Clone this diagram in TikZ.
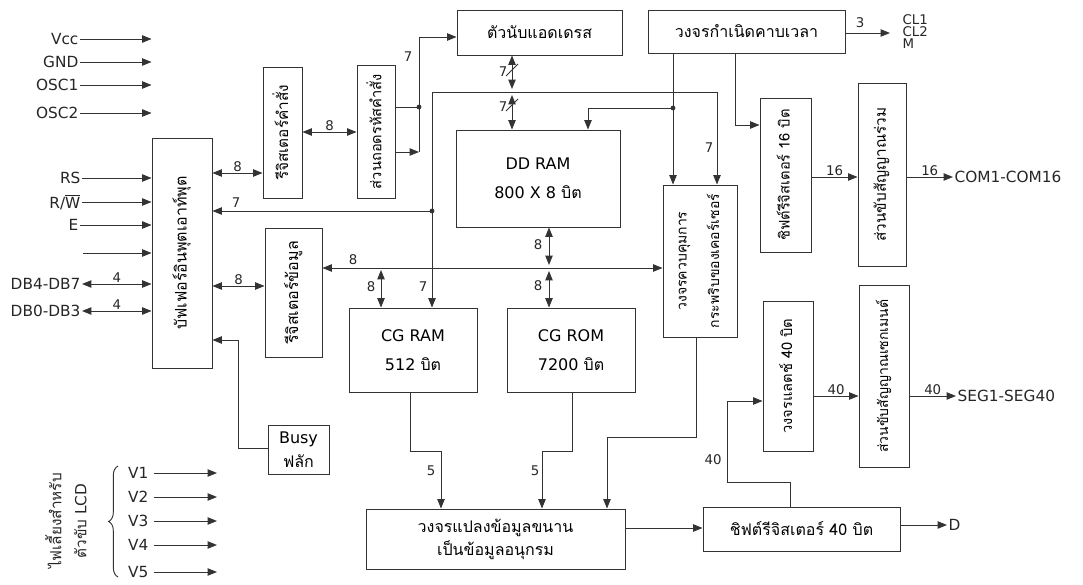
\documentclass[tikz,border=0pt]{standalone}
\usepackage{fontspec}
\setmainfont{DejaVu Sans}
\newfontfamily\thai[Script=Thai]{Loma}
\usetikzlibrary{arrows.meta,decorations.pathreplacing,calc}
\newcommand\mkbox[6]{\node[blk, minimum width={(#4-#2)*0.75pt}, minimum height={(#5-#3)*0.75pt}] (#1) at ({(#2+#4)/2},{(#3+#5)/2}) {#6};}
\newcommand\rotT[2][11]{\rotatebox{90}{\fontsize{#1}{#1}\selectfont\begin{tabular}{@{}c@{}}#2\end{tabular}}}
\begin{document}
\begin{tikzpicture}[x=0.75pt,y=-0.75pt,
  line/.style={draw=black!80, line width=0.7pt},
  blk/.style={line, inner sep=0pt, align=center, font=\fontsize{12}{14}\selectfont},
  arr/.style={line, -{Triangle[length=7pt,width=5.5pt]}},
  darr/.style={line, {Triangle[length=7pt,width=5.5pt]}-{Triangle[length=7pt,width=5.5pt]}},
  pin/.style={inner sep=1pt, font=\fontsize{11.5}{13}\selectfont, text=black!85},
  num/.style={inner sep=1pt, font=\fontsize{10}{12}\selectfont, text=black!85},
  dot/.style={fill=black!80}]
\useasboundingbox (0,0) rectangle (1083,585);

% blocks
\mkbox{io}{152}{138}{212}{368}{\rotT[12]{\thai บัฟเฟอร์อินพุตเอาท์พุต}}
\mkbox{ir}{263}{67}{302}{198}{\rotT[11.5]{\thai รีจิสเตอร์คำสั่ง}}
\mkbox{dec}{357}{65}{395}{198}{\rotT[11]{\thai ส่วนถอดรหัสคำสั่ง}}
\mkbox{ac}{457}{10}{622}{55}{\thai ตัวนับแอดเดรส}
\mkbox{tg}{648}{10}{845}{53}{\thai วงจรกำเนิดคาบเวลา}
\mkbox{dd}{456}{130}{620}{227}{DD RAM\\[8pt]800 X 8 {\thai บิต}}
\mkbox{sr16}{760}{98}{811}{252}{\rotT[11]{\thai ชิฟต์รีจิสเตอร์ 16 บิต}}
\mkbox{com}{858}{83}{906}{266}{\rotT[11.5]{\thai ส่วนขับสัญญาณร่วม}}
\mkbox{dr}{265}{228}{322}{357}{\rotT[12]{\thai รีจิสเตอร์ข้อมูล}}
\mkbox{cur}{663}{185}{737}{337}{\rotT[10.5]{\thai วงจรควบคุมการ\\[12pt]\thai กระพริบของเคอร์เซอร์}}
\mkbox{cgram}{349}{308}{477}{392}{CG RAM\\[8pt]512 {\thai บิต}}
\mkbox{cgrom}{507}{308}{635}{392}{CG ROM\\[8pt]7200 {\thai บิต}}
\mkbox{busy}{268}{425}{329}{474}{Busy\\[4pt]{\thai ฟลัก}}
\mkbox{latch}{763}{301}{813}{451}{\rotT[11]{\thai วงจรแลตช์ 40 บิต}}
\mkbox{seg}{859}{285}{909}{467}{\rotT[10.5]{\thai ส่วนขับสัญญาณเซกเมนต์}}
\mkbox{p2s}{366}{509}{625}{569}{{\thai วงจรแปลงข้อมูลขนาน}\\[2pt]{\thai เป็นข้อมูลอนุกรม}}
\mkbox{sr40}{703}{507}{900}{551}{\thai ชิฟต์รีจิสเตอร์ 40 บิต}

% input pins
\node[pin, anchor=east] (vcc) at (80,39) {Vcc};
\node[pin, anchor=east] (gnd) at (80,62) {GND};
\node[pin, anchor=east] (osc1) at (80,85) {OSC1};
\node[pin, anchor=east] (osc2) at (80,113) {OSC2};
\node[pin, anchor=east] (rs) at (82,178) {RS};
\node[pin, anchor=east] (rw) at (82,202) {R/$\overline{\hbox{W}}$};
\node[pin, anchor=east] (en) at (80,225) {E};
\coordinate (blank) at (83,253);
\node[pin, anchor=east] (db4) at (82,284) {DB4-DB7};
\node[pin, anchor=east] (db0) at (82,311) {DB0-DB3};
\foreach \p in {vcc,gnd,osc1,osc2,rs,rw,en}
  \draw[arr] (\p.east) -- (\p.east -| io.west);
\draw[arr] (blank) -- (blank -| io.west);
\draw[darr] (db4.east) -- (db4.east -| io.west) node[num, midway, above] {4};
\draw[darr] (db0.east) -- (db0.east -| io.west) node[num, midway, above] {4};

% io - ir - dec
\draw[darr] (io.east |- 0,173) -- (ir.west |- 0,173) node[num, midway, above] {8};
\draw[darr] (ir.east |- 0,132) -- (dec.west |- 0,132) node[num, midway, above] {8};
\coordinate (j1) at (419,107);
\coordinate (j2) at (419,152);
\coordinate (j3) at (419,37);
\draw[line] (dec.east |- j1) -- (j1);
\draw[arr] (dec.east |- j2) -- (j2);
\draw[arr] (j2) -- (j3) -- (j3 -| ac.west);
\fill[dot] (j1) circle (1.8pt);
\node[num] (n7a) at (408,57) {7};

% address counter <-> bus <-> DD RAM
\coordinate (b1) at (512,89);
\coordinate (b2) at (512,95);
\draw[darr] (b1 |- ac.south) -- (b1);
\draw[darr] (b2) -- (b2 |- dd.north);
\draw[line] (506,76) -- (518,64);
\draw[line] (506,111) -- (518,99);
\node[num] (n7b) at (503,72) {7};
\node[num] (n7c) at (503,107) {7};

% main address bus
\coordinate (bl) at (432,92);
\coordinate (br) at (717,92);
\draw[darr] (br |- cur.north) -- (br) -- (bl) -- (bl |- cgram.north);
\node[num] (n7d) at (709,148) {7};
\node[num] (n7e) at (423,287) {7};
\coordinate (j4) at (432,211);
\fill[dot] (j4) circle (1.8pt);
\draw[arr] (j4) -- (j4 -| io.east);
\node[num] (n7f) at (236,203) {7};

% timing generator
\coordinate (t1) at (673,108);
\coordinate (t2) at (588,108);
\coordinate (t3) at (735,125);
\draw[arr] (t1 |- tg.south) -- (t1 |- cur.north);
\fill[dot] (t1) circle (1.8pt);
\draw[arr] (t1) -- (t2) -- (t2 |- dd.north);
\draw[arr] (t3 |- tg.south) -- (t3) -- (t3 -| sr16.west);
\coordinate (tgo) at (890,33);
\draw[arr] (tg.east |- tgo) -- (tgo);
\node[num] (n3) at (860,23) {3};
\node[num, anchor=west, align=left, font=\fontsize{10}{9}\selectfont] (clk) at (901,32) {CL1\\CL2\\M};

% common side
\draw[arr] (sr16.east |- 0,177) -- (com.west |- 0,177) node[num, midway, above] {16};
\node[pin, anchor=west] (coml) at (953,177) {COM1-COM16};
\draw[arr] (com.east |- coml) -- (coml.west) node[num, midway, above] {16};

% data register and data bus
\draw[darr] (io.east |- 0,286) -- (dr.west |- 0,286) node[num, midway, above] {8};
\draw[darr] (dr.east |- 0,268) -- (cur.west |- 0,268);
\node[num] (n8a) at (353,260) {8};
\coordinate (c1) at (381,270);
\draw[darr] (c1) -- (c1 |- cgram.north);
\node[num] (n8b) at (371,287) {8};
\coordinate (c2) at (549,265);
\coordinate (c3) at (549,271);
\draw[darr] (c2 |- dd.south) -- (c2);
\draw[darr] (c3) -- (c3 |- cgrom.north);
\node[num] (n8c) at (538,245) {8};
\node[num] (n8d) at (538,286) {8};

% busy flag
\coordinate (k1) at (238,448);
\coordinate (k2) at (238,340);
\draw[arr] (busy.west |- k1) -- (k1) -- (k2) -- (k2 -| io.east);

% LCD supply
\coordinate (vend) at (217,0);
\node[pin, anchor=east] (v1) at (150,473) {V1};
\node[pin, anchor=east] (v2) at (150,497) {V2};
\node[pin, anchor=east] (v3) at (150,521) {V3};
\node[pin, anchor=east] (v4) at (150,545) {V4};
\node[pin, anchor=east] (v5) at (150,572) {V5};
\foreach \p in {v1,v2,v3,v4,v5}
  \draw[arr] ([xshift=3pt]\p.east) -- (\p.east -| vend);
\draw[line, decorate, decoration={brace, amplitude=7pt}] (118,577) -- (118,466);
\node[pin] (lcd) at (68,521) {\rotT[11.5]{{\thai ไฟเลี้ยงสำหรับ}\\[6pt]{\thai ตัวขับ} LCD}};

% to parallel-serial converter
\coordinate (m1) at (410,451);
\coordinate (m2) at (441,451);
\coordinate (m3) at (572,451);
\coordinate (m4) at (542,451);
\coordinate (m5) at (696,437);
\coordinate (m6) at (607,437);
\draw[arr] (m1 |- cgram.south) -- (m1) -- (m2) -- (m2 |- p2s.north);
\draw[arr] (m3 |- cgrom.south) -- (m3) -- (m4) -- (m4 |- p2s.north);
\draw[arr] (m5 |- cur.south) -- (m5) -- (m6) -- (m6 |- p2s.north);
\node[num] (n5a) at (431,471) {5};
\node[num] (n5b) at (535,471) {5};

% segment side
\draw[arr] (p2s.east |- 0,528) -- (sr40.west |- 0,528);
\node[pin, anchor=west] (dl) at (947,525) {D};
\draw[arr] (sr40.east |- dl) -- (dl.west);
\coordinate (q1) at (790,482);
\coordinate (q2) at (727,482);
\coordinate (q3) at (727,401);
\draw[arr] (q1 |- sr40.north) -- (q1) -- (q2) -- (q3) -- (q3 -| latch.west);
\node[num] (n40a) at (713,460) {40};
\draw[arr] (latch.east |- 0,396) -- (seg.west |- 0,396) node[num, midway, above] {40};
\node[pin, anchor=west] (segl) at (956,396) {SEG1-SEG40};
\draw[arr] (seg.east |- segl) -- (segl.west) node[num, midway, above] {40};
\end{tikzpicture}
\end{document}
